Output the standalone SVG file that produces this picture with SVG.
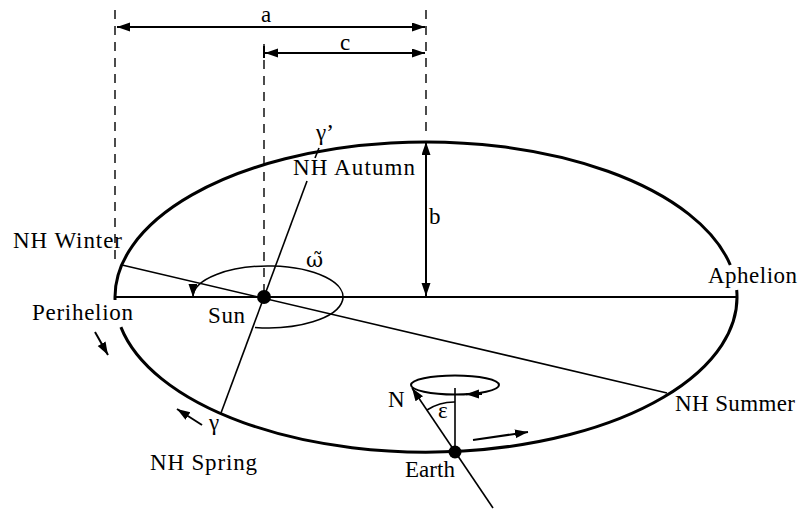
<svg xmlns="http://www.w3.org/2000/svg" width="801" height="511" viewBox="0 0 801 511">
<style>
text{font-family:'Liberation Serif','Times New Roman','DejaVu Serif',serif;font-size:23px;fill:#000}
.ln{stroke:#000;fill:none;stroke-width:1.6}
.th{stroke:#000;fill:none;stroke-width:2}
.orb{stroke:#000;fill:none;stroke-width:3}
.dash{stroke:#000;fill:none;stroke-width:1.4;stroke-dasharray:9 7}
</style>
<defs>
<marker id="ah" markerUnits="userSpaceOnUse" markerWidth="14" markerHeight="10" refX="13" refY="4.5" orient="auto-start-reverse">
<path d="M0,0 L13,4.5 L0,9 z" fill="#000"/>
</marker>
</defs>
<g id="orbit">
<path class="orb" d="M730.3 265 A311 155 0 0 0 115.06 300"/>
<path class="orb" d="M736.7 290 A311 155 0 0 1 120.9 327.1"/>
</g>
<g id="connectors">
<line class="dash" x1="115" y1="10" x2="115" y2="265"/>
<line class="dash" x1="426" y1="10" x2="426" y2="138"/>
<line class="dash" x1="264" y1="44" x2="264" y2="297"/>
<line class="th" x1="117" y1="27" x2="425" y2="27" marker-start="url(#ah)" marker-end="url(#ah)"/>
<line class="th" x1="265" y1="53" x2="425" y2="53" marker-start="url(#ah)" marker-end="url(#ah)"/>
<line class="th" x1="264" y1="46" x2="264" y2="58"/>
<line class="th" x1="426" y1="142" x2="426" y2="296" marker-start="url(#ah)" marker-end="url(#ah)"/>
<line class="th" x1="115" y1="297" x2="737" y2="297"/>
<line class="ln" x1="122" y1="265" x2="667" y2="393"/>
<line class="ln" x1="319" y1="148" x2="315" y2="158"/>
<line class="ln" x1="307" y1="181" x2="221" y2="413"/>
<path class="ln" d="M255 327.5 A75 31 0 1 0 193 297" marker-end="url(#ah)"/>
<line class="th" x1="95" y1="332" x2="108" y2="355" marker-end="url(#ah)"/>
<line class="th" x1="202" y1="425" x2="177" y2="409" marker-end="url(#ah)"/>
<line class="ln" x1="493" y1="508" x2="412" y2="388" marker-end="url(#ah)"/>
<line class="ln" x1="455" y1="452" x2="455" y2="388"/>
<ellipse class="th" cx="455" cy="385" rx="44" ry="9.5"/>
<line class="th" x1="482" y1="394" x2="466" y2="394.3" marker-end="url(#ah)"/>
<path class="ln" d="M427 410 A50 50 0 0 1 455 402"/>
<line class="th" x1="473" y1="440" x2="528" y2="432" marker-end="url(#ah)"/>
</g>
<g id="sun"><circle cx="264" cy="297" r="7" fill="#000"/><text x="208" y="323" textLength="37">Sun</text></g>
<g id="earth"><circle cx="455" cy="452" r="6.5" fill="#000"/><text x="405" y="477" textLength="50">Earth</text></g>
<g id="labels">
<text x="266" y="22" text-anchor="middle">a</text>
<text x="345" y="50" text-anchor="middle">c</text>
<text x="429" y="224">b</text>
<text x="316" y="140">γ’</text>
<text x="293" y="175" textLength="122">NH Autumn</text>
<text x="13" y="248" textLength="109">NH Winter</text>
<text x="32" y="320" textLength="101">Perihelion</text>
<text x="708" y="283" textLength="89">Aphelion</text>
<text x="675" y="411" textLength="120">NH Summer</text>
<text x="150" y="470" textLength="107">NH Spring</text>
<text x="209" y="430">γ</text>
<text x="306" y="267" style="font-family:'DejaVu Serif','Liberation Serif',serif;font-size:21px">ω̃</text>
<text x="388" y="407">N</text>
<text x="438" y="418">ε</text>
</g>
</svg>
